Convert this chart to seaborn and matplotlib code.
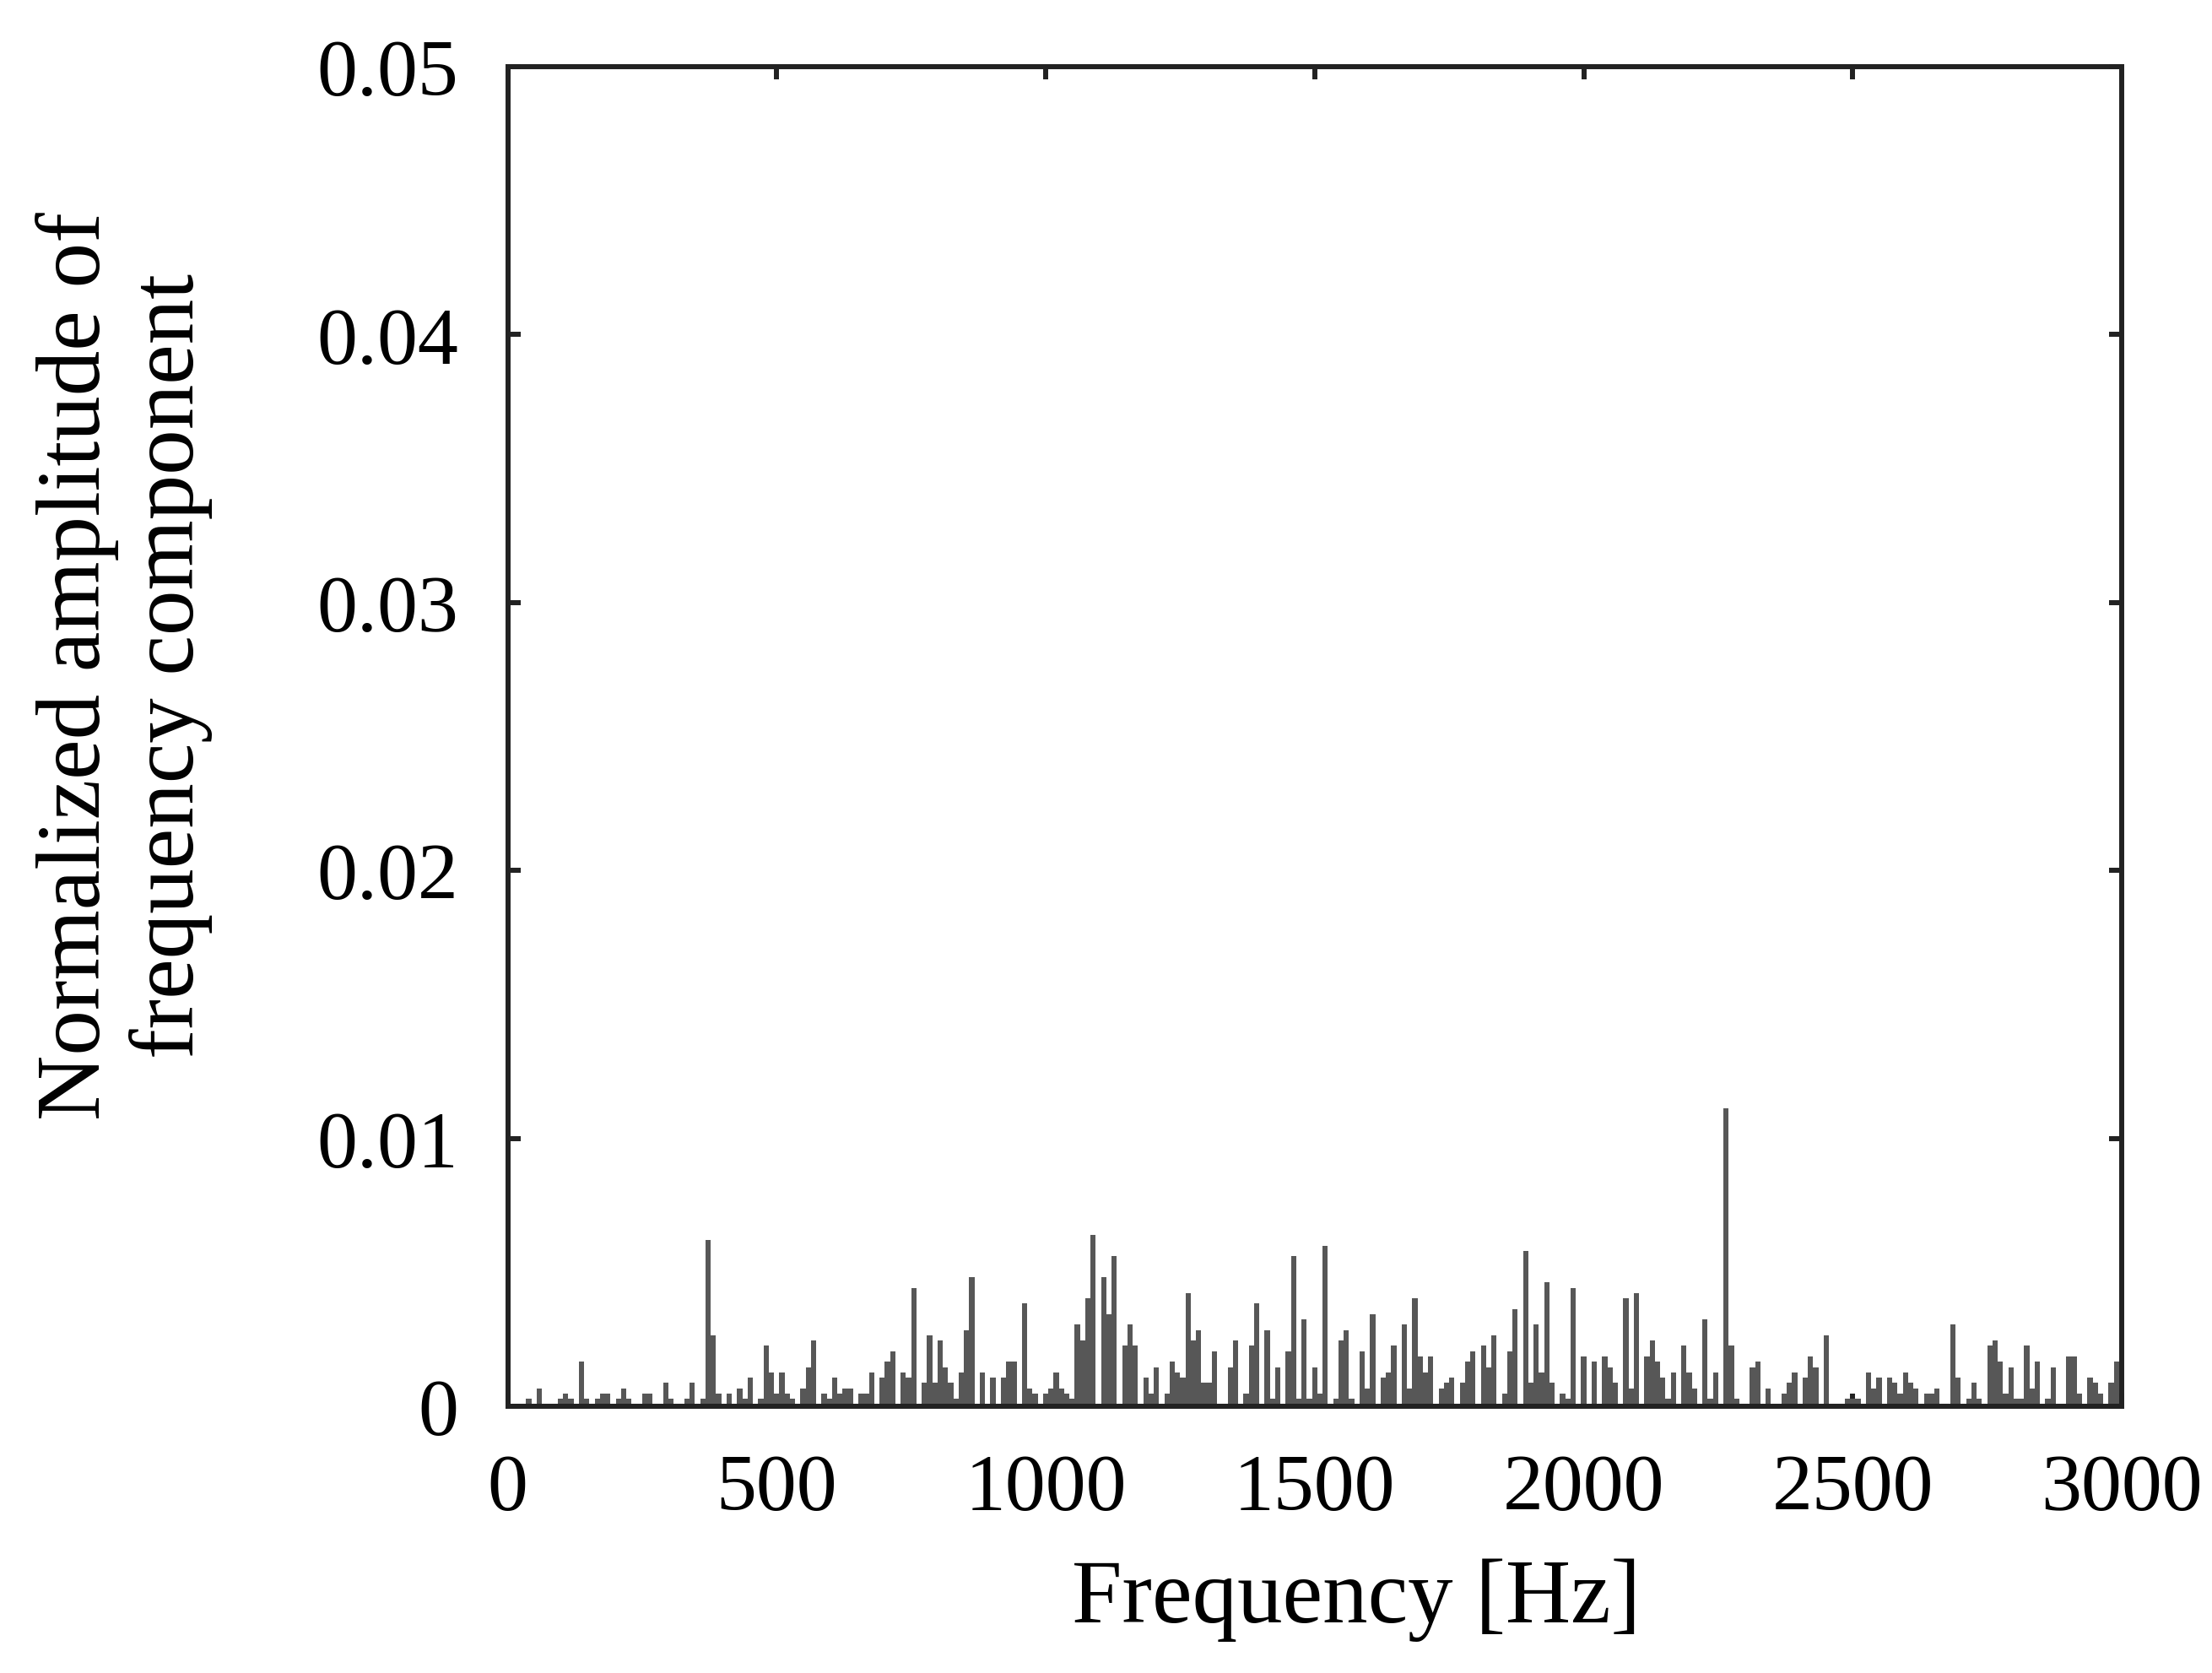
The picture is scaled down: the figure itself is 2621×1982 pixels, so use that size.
import numpy as np
import pandas as pd
import matplotlib
matplotlib.use("Agg")
import matplotlib.pyplot as plt
import seaborn as sns

# ---- data ----
freq_step_hz = 2500 / 255          # spacing of the spectral lines
amplitude = [
    0, 0, 0, 0, 0.00028, 0, 0.00067, 0, 0, 0,
    0.00028, 0.00048, 0.00028, 0, 0.00166, 0.00028, 0, 0.00028, 0.00048, 0.00048,
    0, 0.00028, 0.00067, 0.00028, 0, 0, 0.00048, 0.00048, 0, 0,
    0.00087, 0.00028, 0, 0, 0.00028, 0.00087, 0, 0.00028, 0.00619, 0.00265,
    0.00048, 0, 0.00048, 0, 0.00067, 0.00028, 0.00107, 0, 0.00028, 0.00225,
    0.00127, 0.00048, 0.00127, 0.00048, 0.00028, 0, 0.00067, 0.00146, 0.00245, 0,
    0.00048, 0.00028, 0.00107, 0.00048, 0.00067, 0.00067, 0, 0.00048, 0.00048, 0.00127,
    0, 0.00107, 0.00166, 0.00205, 0, 0.00127, 0.00107, 0.00442, 0, 0.00087,
    0.00265, 0.00087, 0.00245, 0.00146, 0.00087, 0.00028, 0.00127, 0.00284, 0.00481, 0,
    0.00127, 0, 0.00107, 0, 0.00107, 0.00166, 0.00166, 0, 0.00383, 0.00067,
    0.00048, 0, 0.00048, 0.00067, 0.00127, 0.00067, 0.00048, 0.00028, 0.00304, 0.00245,
    0.00402, 0.00639, 0, 0.00481, 0.00343, 0.00560, 0, 0.00225, 0.00304, 0.00225,
    0, 0.00107, 0.00048, 0.00146, 0, 0.00048, 0.00166, 0.00127, 0.00107, 0.00422,
    0.00245, 0.00284, 0.00087, 0.00087, 0.00205, 0, 0, 0.00146, 0.00245, 0,
    0.00048, 0.00225, 0.00383, 0, 0.00284, 0.00028, 0.00146, 0, 0.00205, 0.00560,
    0.00028, 0.00324, 0.00028, 0.00146, 0.00048, 0.00599, 0, 0.00028, 0.00245, 0.00284,
    0.00028, 0, 0.00205, 0.00067, 0.00343, 0, 0.00107, 0.00127, 0.00225, 0,
    0.00304, 0.00067, 0.00402, 0.00186, 0.00127, 0.00186, 0, 0.00067, 0.00087, 0.00107,
    0, 0.00087, 0.00166, 0.00205, 0, 0.00225, 0.00146, 0.00265, 0, 0.00048,
    0.00205, 0.00363, 0, 0.00580, 0.00087, 0.00304, 0.00127, 0.00462, 0.00087, 0,
    0.00048, 0.00028, 0.00442, 0, 0.00186, 0, 0.00166, 0, 0.00186, 0.00146,
    0.00087, 0, 0.00402, 0.00067, 0.00422, 0, 0.00186, 0.00245, 0.00166, 0.00107,
    0.00028, 0.00127, 0, 0.00225, 0.00127, 0.00067, 0, 0.00324, 0.00028, 0.00127,
    0, 0.01112, 0.00225, 0.00028, 0, 0, 0.00146, 0.00166, 0, 0.00067,
    0, 0, 0.00048, 0.00087, 0.00127, 0, 0.00107, 0.00186, 0.00146, 0,
    0.00265, 0, 0, 0, 0.00028, 0.00028, 0.00028, 0, 0.00127, 0.00067,
    0.00107, 0, 0.00107, 0.00087, 0.00048, 0.00127, 0.00087, 0.00067, 0, 0.00048,
    0.00048, 0.00067, 0, 0, 0.00304, 0.00107, 0, 0.00028, 0.00087, 0.00028,
    0, 0.00225, 0.00245, 0.00166, 0.00048, 0.00146, 0.00028, 0.00028, 0.00225, 0.00067,
    0.00166, 0, 0.00028, 0.00146, 0, 0, 0.00186, 0.00186, 0.00048, 0,
    0.00107, 0.00087, 0.00048, 0, 0.00087, 0.00166,
]
frequency = np.arange(len(amplitude)) * freq_step_hz

x_ticks = [0, 500, 1000, 1500, 2000, 2500, 3000]
x_tick_labels = ["0", "500", "1000", "1500", "2000", "2500", "3000"]
y_ticks = [0, 0.01, 0.02, 0.03, 0.04, 0.05]
y_tick_labels = ["0", "0.01", "0.02", "0.03", "0.04", "0.05"]

x_label = "Frequency [Hz]"
y_label = "Normalized amplitude of\nfrequency component"

# ---- style ----
sns.set_theme(style="white")
plt.rcParams["font.family"] = ["Liberation Serif", "DejaVu Serif"]

bar_color = "#575757"
frame_color = "#222222"

fig = plt.figure(figsize=(26.21, 19.83), dpi=100)
ax = fig.add_axes([0.2295, 0.1594, 0.7297, 0.8003])

df = pd.DataFrame({"freq": frequency, "amp": amplitude})
sns.barplot(data=df, x="freq", y="amp", native_scale=True, width=1.0,
            color=bar_color, saturation=1, edgecolor=bar_color, linewidth=0,
            errorbar=None, ax=ax)

ax.set_xlim(0, 3000)
ax.set_ylim(0, 0.05)
ax.set_xticks(x_ticks)
ax.set_xticklabels(x_tick_labels)
ax.set_yticks(y_ticks)
ax.set_yticklabels(y_tick_labels)

ax.tick_params(direction="in", length=10.8, width=4.3, color=frame_color,
               top=True, right=True, bottom=True, left=True,
               labelsize=69, labelcolor="black")
ax.tick_params(axis="x", pad=40)
ax.tick_params(axis="y", pad=42)

for s in ax.spines.values():
    s.set_visible(True)
    s.set_linewidth(4.3)
    s.set_color(frame_color)
    s.set_zorder(5)

ax.set_xlabel(x_label, fontsize=77, color="black")
ax.xaxis.set_label_coords(0.526, -0.113)
ax.set_ylabel(y_label, fontsize=77, color="black", linespacing=1.15)
ax.yaxis.set_label_coords(-0.183, 0.553)
ax.grid(False)

fig.savefig("out.png", dpi=100, facecolor="white")
